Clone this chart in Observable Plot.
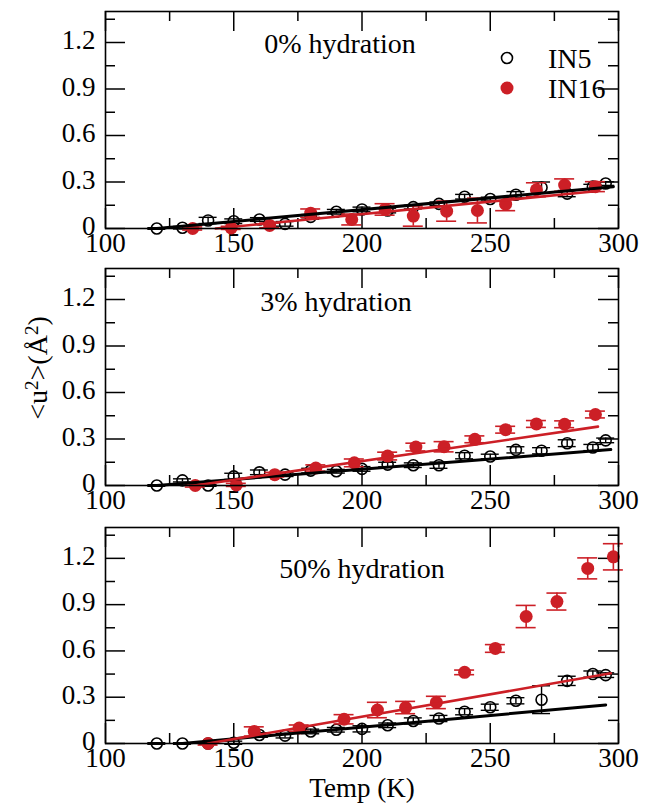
<!DOCTYPE html>
<html><head><meta charset="utf-8">
<script src="https://cdn.jsdelivr.net/npm/d3@7"></script>
<script src="https://cdn.jsdelivr.net/npm/@observablehq/plot@0.6"></script>
<style>
body{margin:0;background:#fff;}
#chart{position:relative;width:650px;height:806px;font-family:"Liberation Serif","Times New Roman",serif;background:#fff;}
#chart svg{display:block;overflow:visible;}
#ylab{position:absolute;left:37px;top:368px;transform:translate(-50%,-50%) rotate(-90deg);font-size:28px;white-space:nowrap;line-height:1;}
#ylab sup{font-size:19px;vertical-align:0.45em;}
#legend{position:absolute;left:0;top:0;}
</style></head><body><div id="chart"><div id="ylab">&lt;u<sup>2</sup>&gt;(Å<sup>2</sup>)</div></div>
<script>
// ---- data ----
const panelLabels = ["0% hydration", "3% hydration", "50% hydration"];
const seriesNames = ["IN5", "IN16"];
const xTicks = [100, 150, 200, 250, 300];
const xMinorTicks = [125, 175, 225, 275];
const yTicks = [0, 0.3, 0.6, 0.9, 1.2];
const yMinorTicks = [0.15, 0.45, 0.75, 1.05, 1.35];

// IN5 (open circles)
const in5T = [120,130,140,150,160,170,180,190,200,210,220,230,240,250,260,270,280,290,295];
const in5V0 = [0,0.005,0.052,0.047,0.058,0.03,0.075,0.108,0.123,0.116,0.138,0.159,0.205,0.19,0.218,0.265,0.225,0.27,0.29];
const in5E0 = [0.005,0.008,0.02,0.015,0.012,0.015,0.015,0.015,0.015,0.015,0.012,0.012,0.015,0.012,0.02,0.035,0.02,0.015,0.012];
const in5V1 = [0,0.033,0,0.059,0.085,0.07,0.096,0.092,0.107,0.135,0.131,0.131,0.192,0.187,0.23,0.224,0.273,0.245,0.291];
const in5E1 = [0.005,0.01,0.005,0.02,0.015,0.012,0.015,0.012,0.015,0.015,0.015,0.02,0.02,0.015,0.02,0.02,0.022,0.02,0.015];
const in5V2 = [0,0,0,0.005,0.055,0.051,0.078,0.089,0.095,0.118,0.146,0.162,0.206,0.235,0.277,0.284,0.406,0.45,0.443];
const in5E2 = [0.005,0.005,0.005,0.01,0.015,0.015,0.015,0.015,0.02,0.015,0.02,0.02,0.02,0.02,0.02,0.09,0.03,0.02,0.015];

// IN16 (filled red circles)
const in16T0 = [134,149,164,180,196,209,220,233,245,256,268,279,291];
const in16V0 = [0,0.004,0.02,0.099,0.058,0.123,0.08,0.112,0.116,0.157,0.25,0.28,0.27];
const in16E0 = [0.01,0.01,0.015,0.027,0.035,0.037,0.065,0.065,0.08,0.042,0.045,0.04,0.032];
const in16T1 = [135,151,166,182,197,210,221,232,244,256,268,279,291];
const in16V1 = [0,0.004,0.07,0.113,0.146,0.19,0.248,0.25,0.298,0.36,0.397,0.395,0.458];
const in16E1 = [0.01,0.01,0.015,0.02,0.025,0.025,0.025,0.033,0.022,0.022,0.022,0.022,0.022];
const in16T2 = [140,158,175.5,193,206,217,229,240,252,264,276,288,298];
const in16V2 = [0,0.078,0.1,0.157,0.217,0.233,0.266,0.461,0.616,0.823,0.92,1.135,1.21];
const in16E2 = [0.01,0.03,0.02,0.03,0.05,0.04,0.04,0.015,0.025,0.072,0.055,0.068,0.085];

// linear fits (end points)
const fitIN5T = [[120,298],[120,297],[130,295]];
const fitIN5V = [[0,0.27],[0,0.232],[0,0.25]];
const fitIN16T = [[143,291],[135,292],[140,297]];
const fitIN16V = [[0,0.24],[0,0.38],[0,0.455]];

// ---- layout ----
const RED = "#cc1f26";
const W = 650, ML = 105, MR = 32;
const layout = [
  {height: 258, mt: 11, mb: 30, dx: -22, dy: 22},
  {height: 259, mt: 10, mb: 32, dx: -26, dy: 23},
  {height: 289, mt: 10, mb: 63, dx: 0, dy: 31}
];
const in5V = [in5V0, in5V1, in5V2], in5E = [in5E0, in5E1, in5E2];
const in16T = [in16T0, in16T1, in16T2], in16V = [in16V0, in16V1, in16V2], in16E = [in16E0, in16E1, in16E2];

const chart = document.getElementById("chart");
const font = '"Liberation Serif","Times New Roman",serif';

for (let i = 0; i < 3; i++) {
  const L = layout[i];
  const aw = W - ML - MR, ah = L.height - L.mt - L.mb;
  const a = in5T.map((t, j) => ({T: t, v: in5V[i][j], e: in5E[i][j]}));
  const b = in16T[i].map((t, j) => ({T: t, v: in16V[i][j], e: in16E[i][j]}));
  const f5 = fitIN5T[i].map((t, j) => ({T: t, v: fitIN5V[i][j]}));
  const f16 = fitIN16T[i].map((t, j) => ({T: t, v: fitIN16V[i][j]}));
  const last = i === 2;
  const svg = Plot.plot({
    width: W, height: L.height,
    marginLeft: ML, marginRight: MR, marginTop: L.mt, marginBottom: L.mb,
    x: {domain: [100, 300]},
    y: {domain: [0, 1.4]},
    style: {fontFamily: font, fontSize: "27px", color: "#000", background: "#fff", overflow: "visible"},
    marks: [
      Plot.axisX({ticks: xTicks, tickSize: 0, tickPadding: 4, fontSize: 27, fontFamily: font,
        label: last ? "Temp (K)" : null, labelAnchor: "center", labelOffset: 53, labelArrow: "none"}),
      Plot.axisY({ticks: yTicks, tickSize: 0, tickPadding: 10, fontSize: 27, fontFamily: font, label: null, dy: -2,
        tickFormat: d => d === 0 ? "0" : d.toFixed(1)}),
      // inward ticks
      Plot.tickY(yTicks, {y: d => d, insetRight: aw - 20, stroke: "#000", strokeWidth: 1.5}),
      Plot.tickY(yTicks, {y: d => d, insetLeft: aw - 20, stroke: "#000", strokeWidth: 1.5}),
      Plot.tickY(yMinorTicks, {y: d => d, insetRight: aw - 10, stroke: "#000", strokeWidth: 1.5}),
      Plot.tickY(yMinorTicks, {y: d => d, insetLeft: aw - 10, stroke: "#000", strokeWidth: 1.5}),
      Plot.tickX(xTicks, {x: d => d, insetTop: ah - 20, stroke: "#000", strokeWidth: 1.5}),
      Plot.tickX(xTicks, {x: d => d, insetBottom: ah - 20, stroke: "#000", strokeWidth: 1.5}),
      Plot.tickX(xMinorTicks, {x: d => d, insetTop: ah - 10, stroke: "#000", strokeWidth: 1.5}),
      Plot.tickX(xMinorTicks, {x: d => d, insetBottom: ah - 10, stroke: "#000", strokeWidth: 1.5}),
      // IN5 error bars + points
      Plot.ruleX(a, {x: "T", y1: d => d.v - d.e, y2: d => d.v + d.e, stroke: "#000", strokeWidth: 1.4}),
      Plot.ruleY(a, {x1: "T", x2: "T", y: d => d.v + d.e, insetLeft: -9, insetRight: -9, stroke: "#000", strokeWidth: 1.4}),
      Plot.ruleY(a, {x1: "T", x2: "T", y: d => d.v - d.e, insetLeft: -9, insetRight: -9, stroke: "#000", strokeWidth: 1.4}),
      Plot.dot(a, {x: "T", y: "v", r: 5.5, stroke: "#000", strokeWidth: 1.6, fill: "none"}),
      // IN16 error bars + points
      Plot.ruleX(b, {x: "T", y1: d => d.v - d.e, y2: d => d.v + d.e, stroke: RED, strokeWidth: 1.6}),
      Plot.ruleY(b, {x1: "T", x2: "T", y: d => d.v + d.e, insetLeft: -10, insetRight: -10, stroke: RED, strokeWidth: 1.6}),
      Plot.ruleY(b, {x1: "T", x2: "T", y: d => d.v - d.e, insetLeft: -10, insetRight: -10, stroke: RED, strokeWidth: 1.6}),
      Plot.dot(b, {x: "T", y: "v", r: 6.5, fill: RED, stroke: "none"}),
      // fits
      Plot.line(f5, {x: "T", y: "v", stroke: "#000", strokeWidth: 3}),
      Plot.line(f16, {x: "T", y: "v", stroke: RED, strokeWidth: 2.6}),
      Plot.frame({stroke: "#000", strokeWidth: 1.6}),
      Plot.text([panelLabels[i]], {text: d => d, frameAnchor: "top", lineAnchor: "top", dx: L.dx, dy: L.dy, fontSize: 28, fontFamily: font, fill: "#000"})
    ]
  });
  chart.appendChild(svg);
}

// legend (upper panel)
const leg = d3.select(chart).append("svg").attr("id", "legend").attr("width", W).attr("height", 110);
const legY = [58, 88];
seriesNames.forEach((name, k) => {
  if (k === 0) leg.append("circle").attr("cx", 507).attr("cy", legY[k]).attr("r", 5.5).attr("fill", "none").attr("stroke", "#000").attr("stroke-width", 1.6);
  else leg.append("circle").attr("cx", 507).attr("cy", legY[k]).attr("r", 6.5).attr("fill", RED);
  leg.append("text").attr("x", 548).attr("y", legY[k]).attr("dy", "0.35em").attr("font-family", font).attr("font-size", 28).text(name);
});
</script>
</body></html>
